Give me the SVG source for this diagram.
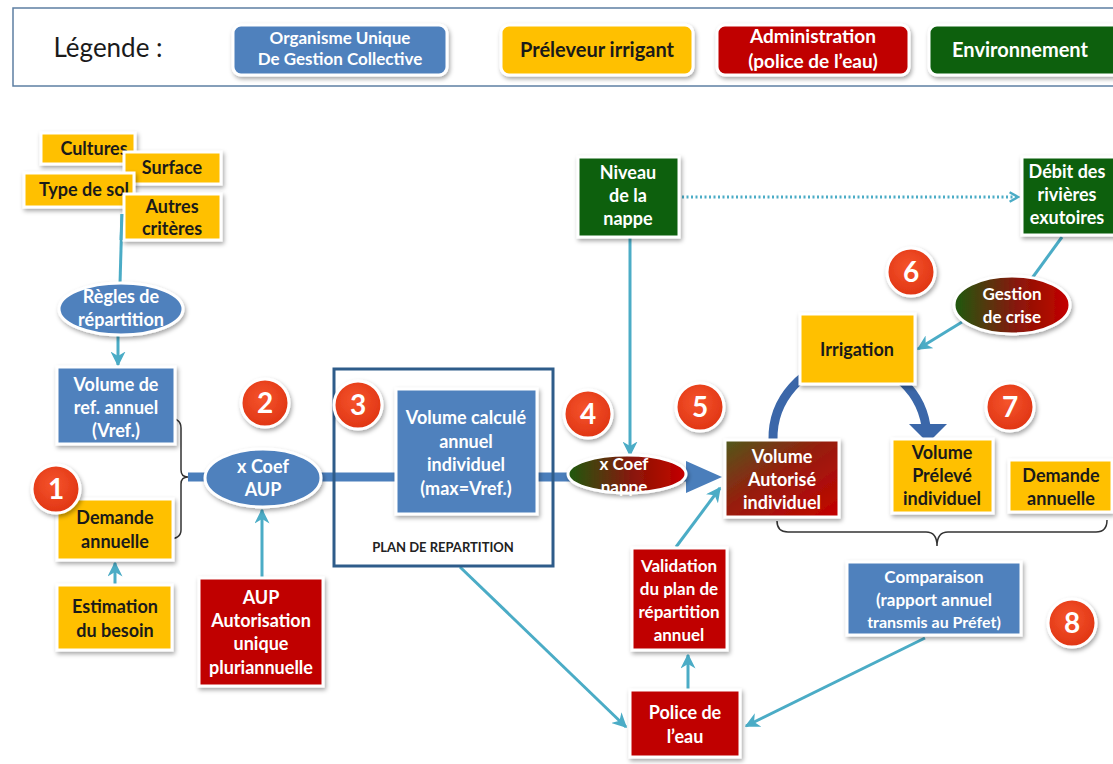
<svg xmlns="http://www.w3.org/2000/svg" width="1113" height="764" viewBox="0 0 1113 764">
<defs>
<style>
text{font-family:Lato,"Liberation Sans",sans-serif;font-weight:bold;text-anchor:middle}
.w{fill:#ffffff;font-size:18px}
.d{fill:#1a1a1a;font-size:18px}
.n{fill:#ffffff;font-size:28px}
.box{stroke:#ffffff;stroke-width:3;filter:url(#sh)}
.blue{fill:#4f81bd}
.yel{fill:#ffc000}
.red{fill:#c00000}
.grn{fill:#0b600f}
.badge{fill:url(#bg);stroke:#ffffff;stroke-width:3;filter:url(#sh)}
.con{stroke:#4bacc6;stroke-width:3;fill:none}
</style>
<filter id="sh" x="-20%" y="-20%" width="150%" height="150%">
<feDropShadow dx="1.5" dy="2.5" stdDeviation="2" flood-color="#000" flood-opacity="0.35"/>
</filter>
<radialGradient id="bg" cx="0.45" cy="0.4" r="0.6">
<stop offset="0" stop-color="#f5542c"/>
<stop offset="1" stop-color="#e03514"/>
</radialGradient>
<linearGradient id="gr" x1="0" y1="0" x2="1" y2="0">
<stop offset="0" stop-color="#1d5a0c"/>
<stop offset="0.55" stop-color="#8a1608"/>
<stop offset="1" stop-color="#c50000"/>
</linearGradient>
<linearGradient id="gr2" x1="0" y1="0" x2="1" y2="1">
<stop offset="0" stop-color="#4f5a1c"/>
<stop offset="0.45" stop-color="#961e0e"/>
<stop offset="1" stop-color="#c40000"/>
</linearGradient>
<marker id="ar" viewBox="0 0 10 10" refX="9" refY="5" markerWidth="5" markerHeight="5" orient="auto">
<path d="M0,0 L10,5 L0,10 L3,5 Z" fill="#4bacc6"/>
</marker>
<marker id="ch" viewBox="0 0 10 10" refX="8" refY="5" markerWidth="4" markerHeight="4" orient="auto">
<path d="M1,1 L8,5 L1,9" fill="none" stroke="#4bacc6" stroke-width="2"/>
</marker>
</defs>

<!-- Legend -->
<g id="legend">
<rect x="13" y="8" width="1120" height="78" fill="#ffffff" stroke="#5d7fa3" stroke-width="1.5"/>
<text x="108" y="57" style="font-weight:normal;font-size:26px;fill:#1a1a1a">Légende :</text>
<rect class="box blue" x="233" y="25" width="214" height="50" rx="8"/>
<text class="w" x="340" y="44" style="font-size:17px">Organisme Unique</text>
<text class="w" x="340" y="65" style="font-size:17px">De Gestion Collective</text>
<rect class="box yel" x="501" y="25" width="192" height="50" rx="8"/>
<text class="d" x="597" y="57" style="font-size:20px">Préleveur irrigant</text>
<rect class="box red" x="717" y="25" width="192" height="50" rx="8"/>
<text class="w" x="813" y="43" style="font-size:19px">Administration</text>
<text class="w" x="813" y="68" style="font-size:19px">(police de l’eau)</text>
<rect class="box grn" x="929" y="25" width="195" height="50" rx="8"/>
<text class="w" x="1020" y="57" style="font-size:20px">Environnement</text>
</g>

<!-- Connectors -->
<g id="connectors">
<path d="M168,418 Q181,418 181,428 L181,470 Q181,477 188,477 Q181,477 181,484 L181,530 Q181,539 168,539" fill="none" stroke="#333" stroke-width="1.5"/>
<line x1="188" y1="477" x2="690" y2="477" stroke="#4a7ebb" stroke-width="9"/>
<polygon points="686,461 722,477 686,493" fill="#4a7ebb"/>
<path d="M773,440 A77,77 0 0 1 926,426" fill="none" stroke="#3b67a9" stroke-width="9"/>
<polygon points="909,424 947,424 928,443" fill="#3b67a9"/>
<line class="con" x1="122" y1="214" x2="120" y2="284"/>
<line class="con" x1="118" y1="336" x2="118" y2="365" marker-end="url(#ar)"/>
<line class="con" x1="115" y1="584" x2="115" y2="563" marker-end="url(#ar)"/>
<line class="con" x1="262" y1="578" x2="262" y2="510" marker-end="url(#ar)"/>
<line class="con" x1="630" y1="237" x2="630" y2="455" marker-end="url(#ar)"/>
<line class="con" x1="682" y1="197" x2="1018" y2="197" stroke-dasharray="2 2.5" marker-end="url(#ch)"/>
<line class="con" x1="1062" y1="237" x2="1030" y2="281"/>
<line class="con" x1="962" y1="322" x2="918" y2="349" marker-end="url(#ar)"/>
<line class="con" x1="676" y1="547" x2="720" y2="488" marker-end="url(#ar)"/>
<line class="con" x1="688" y1="690" x2="688" y2="655" marker-end="url(#ar)"/>
<line class="con" x1="460" y1="567" x2="626" y2="727" marker-end="url(#ar)"/>
<line class="con" x1="925" y1="638" x2="746" y2="726" marker-end="url(#ar)"/>
<path d="M777,521 Q777,532 788,532 L926,532 Q937,532 937,546 Q937,532 948,532 L1096,532 Q1107,532 1107,520" fill="none" stroke="#333" stroke-width="1.5"/>
</g>

<!-- Criteria -->
<g id="cultures"><rect class="box yel" x="41" y="133" width="94" height="31"/><text class="d" x="94" y="155">Cultures</text></g>
<g id="surface"><rect class="box yel" x="124" y="152" width="97" height="32"/><text class="d" x="172" y="174">Surface</text></g>
<g id="typesol"><rect class="box yel" x="24" y="173" width="110" height="34"/><text class="d" x="84" y="196">Type de sol</text></g>
<g id="autres"><rect class="box yel" x="124" y="194" width="97" height="46"/><text class="d" x="172" y="213">Autres</text><text class="d" x="172" y="235">critères</text></g>
<line class="con" x1="122" y1="214" x2="121" y2="240"/>

<g id="regles"><ellipse class="box blue" cx="121" cy="309" rx="62" ry="26"/><text class="w" x="121" y="303">Règles de</text><text class="w" x="121" y="326">répartition</text></g>

<g id="vref"><rect class="box blue" x="57" y="367" width="118" height="77"/><text class="w" x="116" y="391">Volume de</text><text class="w" x="116" y="414">ref. annuel</text><text class="w" x="116" y="437">(Vref.)</text></g>

<g id="demande1"><rect class="box yel" x="57" y="499" width="116" height="61"/><text class="d" x="115" y="524">Demande</text><text class="d" x="115" y="548">annuelle</text></g>

<g id="estimation"><rect class="box yel" x="57" y="585" width="115" height="65"/><text class="d" x="115" y="613">Estimation</text><text class="d" x="115" y="637">du besoin</text></g>

<g id="coefaup"><ellipse class="box blue" cx="263" cy="478" rx="58" ry="29"/><text class="w" x="263" y="473">x Coef</text><text class="w" x="263" y="496">AUP</text></g>

<g id="aup"><rect class="box red" x="199" y="578" width="124" height="108"/><text class="w" x="261" y="604">AUP</text><text class="w" x="261" y="627">Autorisation</text><text class="w" x="261" y="650">unique</text><text class="w" x="261" y="674">pluriannuelle</text></g>

<g id="plan"><rect x="334" y="369" width="219" height="197" fill="none" stroke="#2e5c8a" stroke-width="3"/><text x="443" y="552" style="font-size:13px;fill:#222">PLAN DE REPARTITION</text></g>

<g id="vcalc"><rect class="box blue" x="396" y="389" width="141" height="125"/><text class="w" x="466" y="424">Volume calculé</text><text class="w" x="466" y="448">annuel</text><text class="w" x="466" y="471">individuel</text><text class="w" x="466" y="495">(max=Vref.)</text></g>

<g id="coefnappe"><ellipse class="box" cx="627" cy="474" rx="59" ry="19" fill="url(#gr)"/><text class="w" x="624" y="470" style="font-size:17px">x Coef</text><text class="w" x="624" y="493" style="font-size:17px">nappe</text></g>

<g id="niveau"><rect class="box grn" x="578" y="157" width="101" height="80"/><text class="w" x="628" y="179">Niveau</text><text class="w" x="628" y="202">de la</text><text class="w" x="628" y="225">nappe</text></g>

<g id="debit"><rect class="box grn" x="1022" y="157" width="100" height="78"/><text class="w" x="1067" y="178">Débit des</text><text class="w" x="1067" y="201">rivières</text><text class="w" x="1067" y="224">exutoires</text></g>

<g id="crise"><ellipse class="box" cx="1012" cy="305" rx="58" ry="29" fill="url(#gr)"/><text class="w" x="1012" y="300" style="font-size:17px">Gestion</text><text class="w" x="1012" y="323" style="font-size:17px">de crise</text></g>

<g id="irrigation"><rect class="box yel" x="800" y="314" width="115" height="70"/><text class="d" x="857" y="356">Irrigation</text></g>

<g id="vautorise"><rect class="box" x="725" y="440" width="114" height="77" fill="url(#gr2)"/><text class="w" x="782" y="463">Volume</text><text class="w" x="782" y="486">Autorisé</text><text class="w" x="782" y="509">individuel</text></g>

<g id="vpreleve"><rect class="box yel" x="892" y="439" width="101" height="74"/><text class="d" x="942" y="459">Volume</text><text class="d" x="942" y="482">Prélevé</text><text class="d" x="942" y="505">individuel</text></g>

<g id="demande2"><rect class="box yel" x="1009" y="460" width="103" height="52"/><text class="d" x="1061" y="482">Demande</text><text class="d" x="1061" y="505">annuelle</text></g>

<g id="comparaison"><rect class="box blue" x="847" y="562" width="174" height="73"/><text class="w" x="934" y="583" style="font-size:17px">Comparaison</text><text class="w" x="934" y="606" style="font-size:17px">(rapport annuel</text><text class="w" x="934" y="628" style="font-size:16px">transmis au Préfet)</text></g>

<g id="validation"><rect class="box red" x="632" y="548" width="95" height="102"/><text class="w" x="679" y="572" style="font-size:17px">Validation</text><text class="w" x="679" y="595" style="font-size:17px">du plan de</text><text class="w" x="679" y="618" style="font-size:17px">répartition</text><text class="w" x="679" y="641" style="font-size:17px">annuel</text></g>

<g id="police"><rect class="box red" x="630" y="690" width="110" height="67"/><text class="w" x="685" y="719">Police de</text><text class="w" x="685" y="743">l’eau</text></g>

<!-- Badges -->
<g id="b1"><circle class="badge" cx="56" cy="489" r="24"/><text class="n" x="56" y="499">1</text></g>
<g id="b2"><circle class="badge" cx="265" cy="403" r="24"/><text class="n" x="265" y="413">2</text></g>
<g id="b3"><circle class="badge" cx="358" cy="405" r="24"/><text class="n" x="358" y="415">3</text></g>
<g id="b4"><circle class="badge" cx="588" cy="414" r="24"/><text class="n" x="588" y="424">4</text></g>
<g id="b5"><circle class="badge" cx="700" cy="407" r="24"/><text class="n" x="700" y="417">5</text></g>
<g id="b6"><circle class="badge" cx="911" cy="272" r="24"/><text class="n" x="911" y="282">6</text></g>
<g id="b7"><circle class="badge" cx="1010" cy="407" r="24"/><text class="n" x="1010" y="417">7</text></g>
<g id="b8"><circle class="badge" cx="1072" cy="623" r="24"/><text class="n" x="1072" y="633">8</text></g>
</svg>
